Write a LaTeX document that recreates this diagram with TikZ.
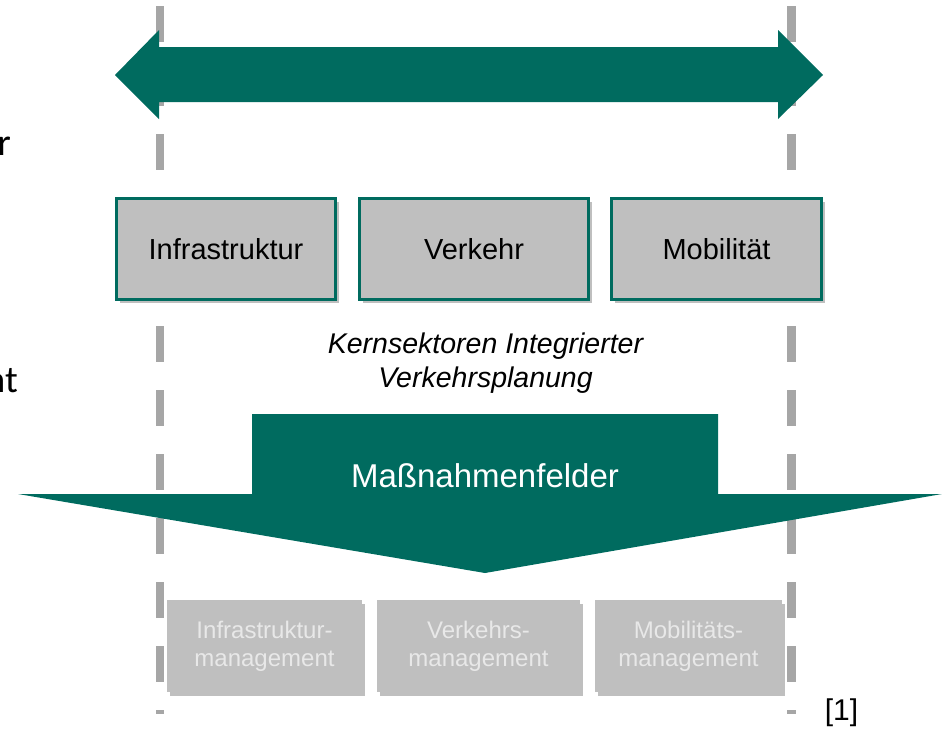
\documentclass[tikz,border=0pt]{standalone}
\usepackage{fontspec}
\setmainfont{Liberation Sans}
\newfontfamily\calfont{Carlito}
\usetikzlibrary{shadows}
\definecolor{teal1}{RGB}{0,107,95}
\definecolor{dashgray}{RGB}{166,166,166}
\definecolor{boxgray}{RGB}{191,191,191}
\definecolor{lighttext}{RGB}{232,232,232}
\tikzset{
  guide/.style={draw=dashgray, line width=8.5pt, dash pattern=on 36pt off 28pt},
  bigarrow/.style={fill=teal1, draw=none},
  sectorbox/.style={draw=teal1, line width=3pt, fill=boxgray, inner sep=0pt,
    minimum height=101pt, font=\fontsize{29}{34}\selectfont,
    drop shadow={shadow xshift=3pt, shadow yshift=-3.5pt, fill=black, opacity=0.25}},
  fieldbox/.style={draw=none, fill=boxgray, inner sep=0pt, minimum height=92pt,
    align=center, text=lighttext, font=\fontsize{24}{28}\selectfont,
    drop shadow={shadow xshift=3pt, shadow yshift=-3.5pt, fill=black, opacity=0.25}},
  cuttext/.style={anchor=base east, inner sep=0pt, font=\calfont\fontsize{38}{44}\selectfont},
}
\begin{document}
\begin{tikzpicture}[x=1pt, y=-1pt]
\useasboundingbox (0,0) rectangle (942,729);
% guides
\coordinate (gl1) at (160,6);
\coordinate (gl2) at (160,714);
\coordinate (gr1) at (791.5,6);
\coordinate (gr2) at (791.5,714);
\draw[guide] (gl1) -- (gl2);
\draw[guide] (gr1) -- (gr2);
% top double arrow
\fill[bigarrow] (115,75) -- (159,30) -- (159,47) -- (778,47) -- (778,30) -- (823,75)
  -- (778,119) -- (778,102) -- (159,102) -- (159,119) -- cycle;
% sector boxes
\node[sectorbox, minimum width=219pt] (infra) at (226,249) {Infrastruktur};
\node[sectorbox, minimum width=229pt] (verk) at (474,249) {Verkehr};
\node[sectorbox, minimum width=210pt] (mobi) at (716.5,249) {Mobilität};
% caption
\node[align=center, inner sep=0pt, font=\fontsize{28.5}{34}\selectfont\itshape] (kern) at (485.5,363.5)
  {Kernsektoren Integrierter\\Verkehrsplanung};
% down arrow
\fill[bigarrow] (252,414) -- (718,414) -- (718,494) -- (942,494) -- (485,573)
  -- (18,494) -- (252,494) -- cycle;
\node[anchor=base, text=white, inner sep=0pt, font=\fontsize{33}{38}\selectfont] (mass) at (485,487) {Maßnahmenfelder};
% field boxes
\node[fieldbox, minimum width=195pt] (f1) at (264.5,646) {Infrastruktur-\\management};
\node[fieldbox, minimum width=203pt] (f2) at (478.5,646) {Verkehrs-\\management};
\node[fieldbox, minimum width=187pt] (f3) at (688.5,646) {Mobilitäts-\\management};
% reference
\node[anchor=base, inner sep=0pt, font=\fontsize{30}{34}\selectfont] (ref) at (841.5,720) {[1]};
% cut-off texts at left
\node[cuttext] (cut1) at (11,155) {r};
\node[cuttext] (cut2) at (18,392) {nt};
\end{tikzpicture}
\end{document}
